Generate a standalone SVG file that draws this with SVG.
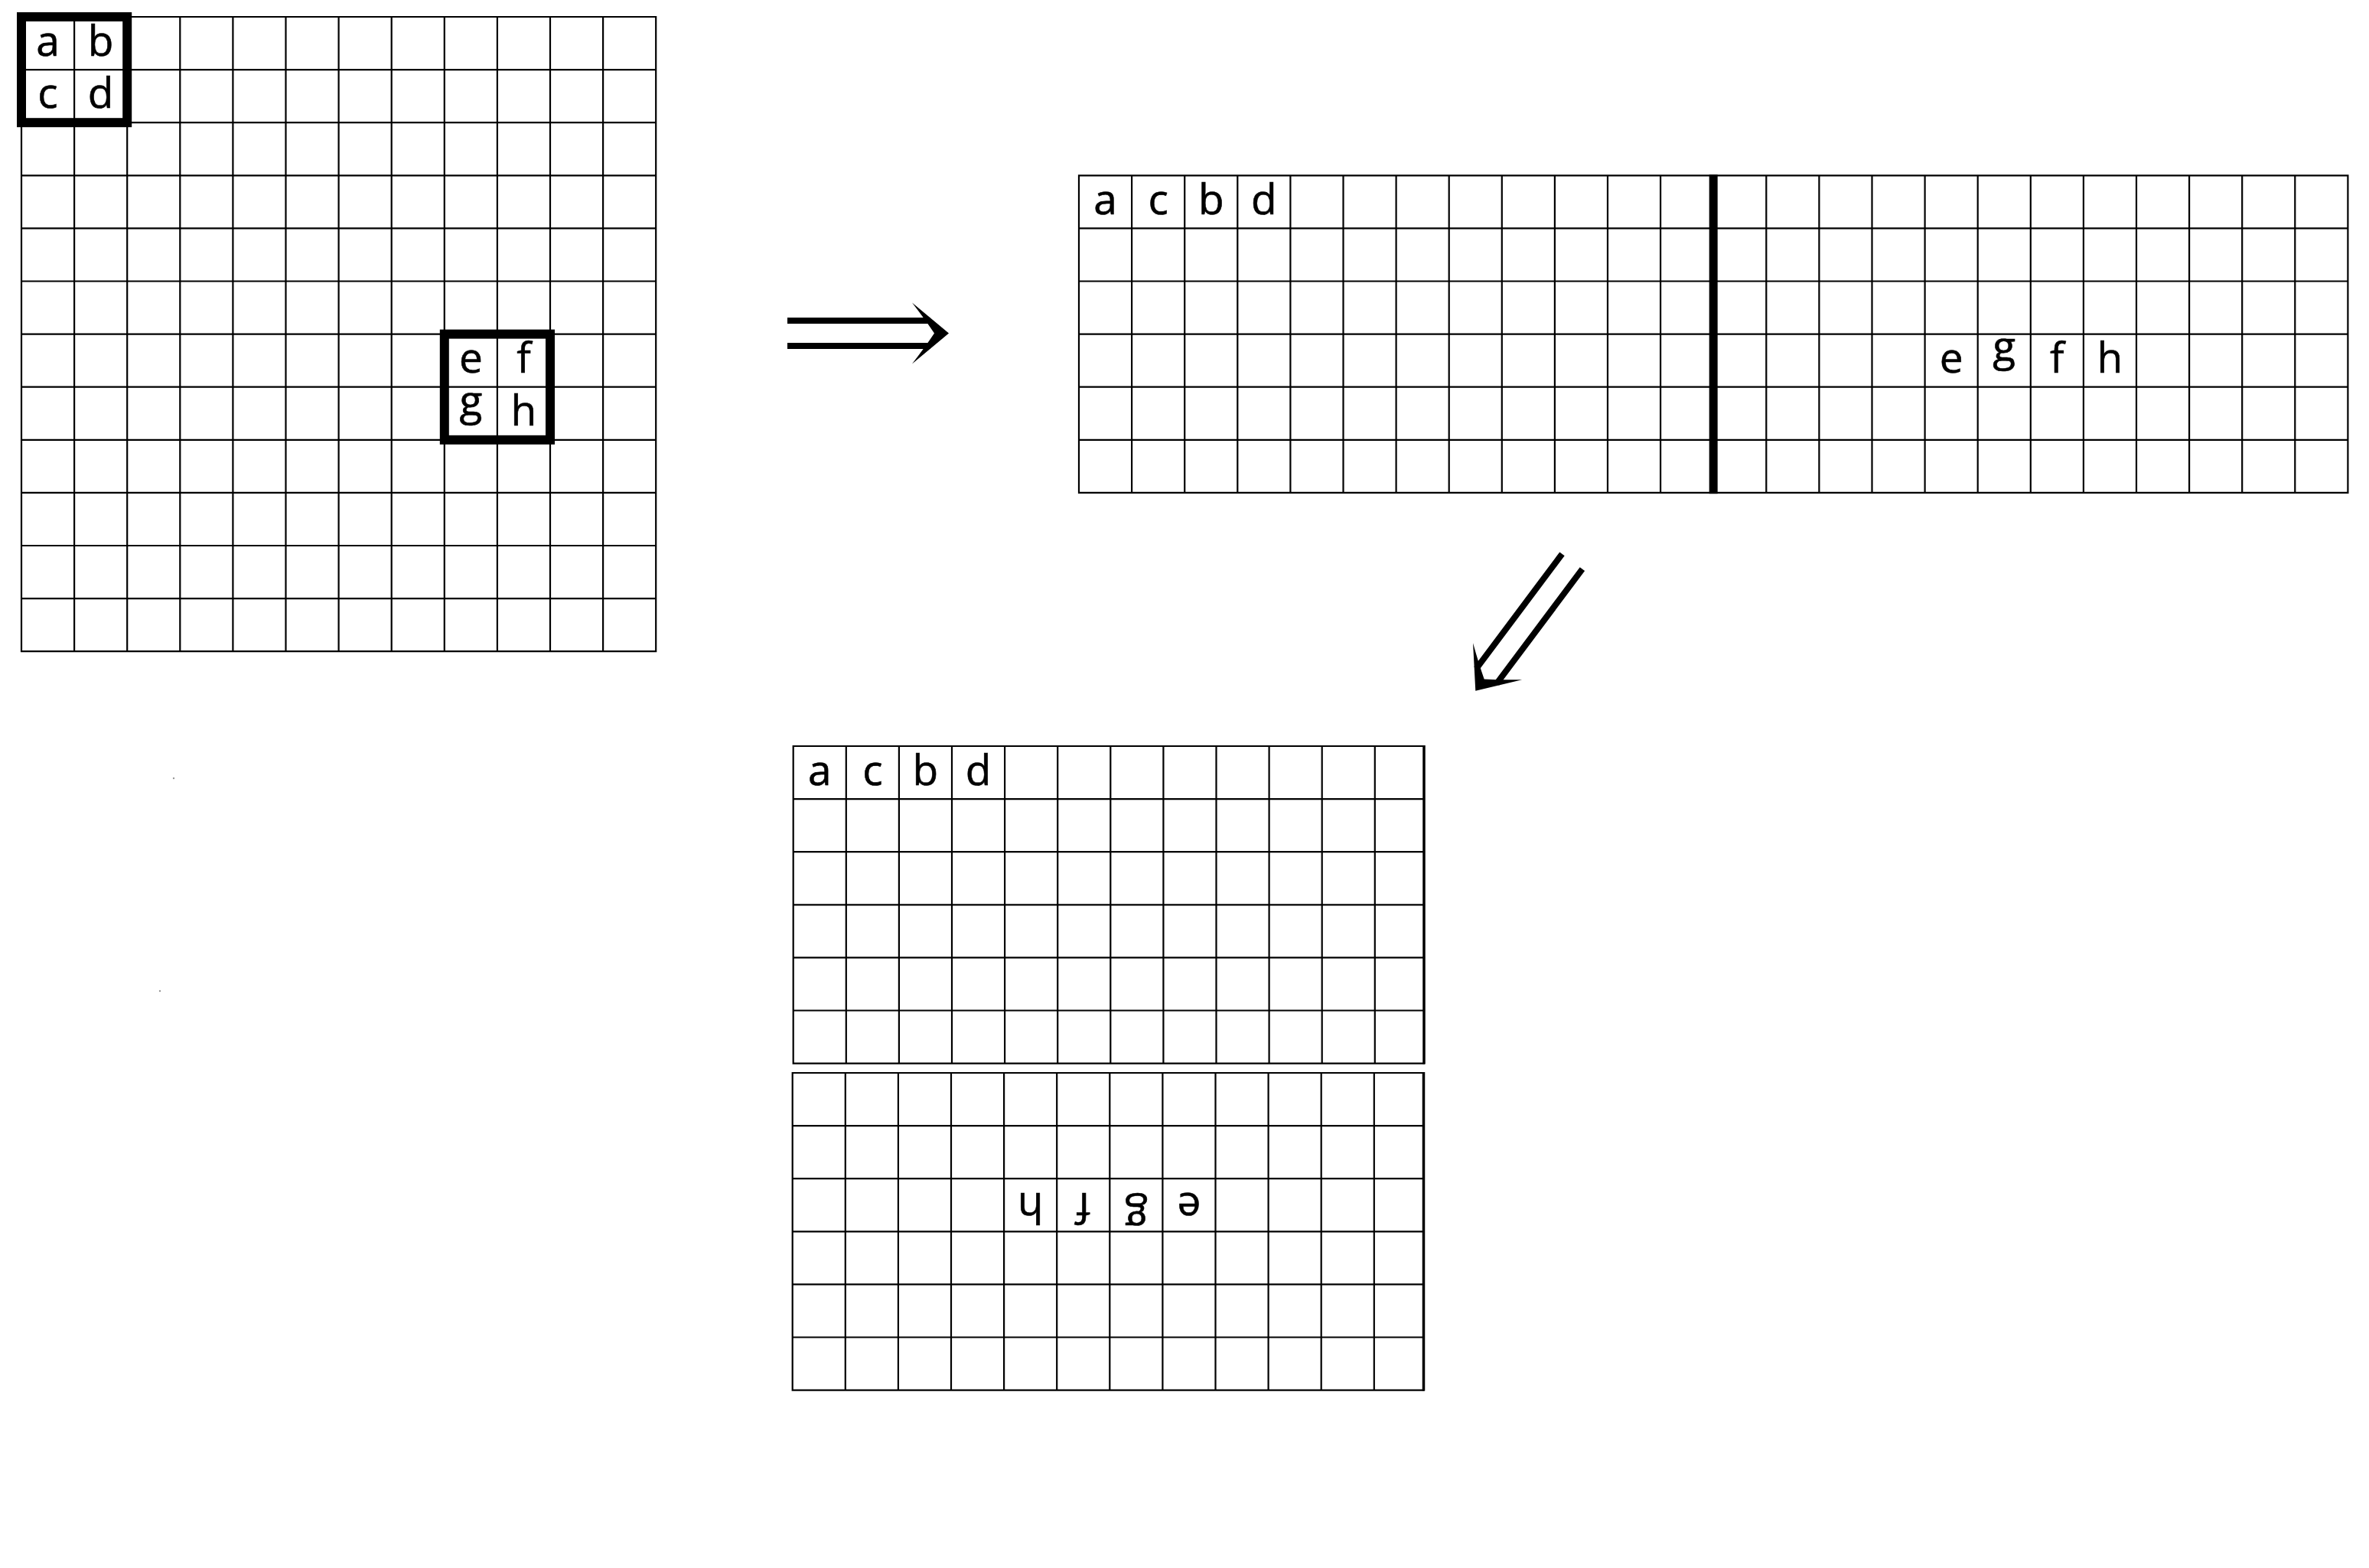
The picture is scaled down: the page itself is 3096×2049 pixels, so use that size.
<svg xmlns="http://www.w3.org/2000/svg" width="3096" height="2049" viewBox="0 0 3096 2049">
<style>
.grid{fill:none;stroke:#000;stroke-width:2.2;stroke-linecap:square}
.thick{fill:none;stroke:#000;stroke-width:12}
.lt{font-family:"Open Sans","Noto Sans","DejaVu Sans",sans-serif;font-size:55px;text-anchor:middle;fill:#000;stroke:#000;stroke-width:0.6}
.bar{stroke:#000;stroke-width:8;fill:none}
</style>
<defs>
<g id="implies">
<path class="bar" d="M-211 -16.5H-24 M-211 16.5H-24"/>
<path d="M-48 -40L0 0L-48 40Q-31 18 -19 0Q-31 -18 -48 -40Z" fill="#000"/>
</g>
</defs>
<rect width="3096" height="2049" fill="#fff"/>

<g id="grid-original">
<path class="grid" d="M28 22V851.2M97.1 22V851.2M166.2 22V851.2M235.3 22V851.2M304.4 22V851.2M373.5 22V851.2M442.6 22V851.2M511.7 22V851.2M580.8 22V851.2M649.9 22V851.2M719 22V851.2M788.1 22V851.2M857.2 22V851.2M28 22H857.2M28 91.1H857.2M28 160.2H857.2M28 229.3H857.2M28 298.4H857.2M28 367.5H857.2M28 436.6H857.2M28 505.7H857.2M28 574.8H857.2M28 643.9H857.2M28 713H857.2M28 782.1H857.2M28 851.2H857.2"/>
<rect class="thick" x="28" y="22" width="138.2" height="138.2"/>
<rect class="thick" x="580.8" y="436.6" width="138.2" height="138.2"/>
<text class="lt" x="62.55" y="72.5">a</text>
<text class="lt" x="131.65" y="72.5">b</text>
<text class="lt" x="62.55" y="141.2">c</text>
<text class="lt" x="131.65" y="141.2">d</text>
<text class="lt" x="615.35" y="486.5">e</text>
<text class="lt" x="684.45" y="486.5">f</text>
<text class="lt" x="615.35" y="542.8">g</text>
<text class="lt" x="684.45" y="556">h</text>
</g>

<g id="grid-wide">
<path class="grid" d="M1410 229.3V643.9M1479.1 229.3V643.9M1548.2 229.3V643.9M1617.3 229.3V643.9M1686.4 229.3V643.9M1755.5 229.3V643.9M1824.6 229.3V643.9M1893.7 229.3V643.9M1962.8 229.3V643.9M2031.9 229.3V643.9M2101 229.3V643.9M2170.1 229.3V643.9M2308.3 229.3V643.9M2377.4 229.3V643.9M2446.5 229.3V643.9M2515.6 229.3V643.9M2584.7 229.3V643.9M2653.8 229.3V643.9M2722.9 229.3V643.9M2792 229.3V643.9M2861.1 229.3V643.9M2930.2 229.3V643.9M2999.3 229.3V643.9M3068.4 229.3V643.9M1410 229.3H3068.4M1410 298.4H3068.4M1410 367.5H3068.4M1410 436.6H3068.4M1410 505.7H3068.4M1410 574.8H3068.4M1410 643.9H3068.4"/>
<path d="M2239.2 228V645.2" stroke="#000" stroke-width="11" fill="none"/>
<text class="lt" x="1444.55" y="280">a</text>
<text class="lt" x="1513.65" y="280">c</text>
<text class="lt" x="1582.75" y="280">b</text>
<text class="lt" x="1651.85" y="280">d</text>
<text class="lt" x="2550.15" y="487.2">e</text>
<text class="lt" x="2619.25" y="472">g</text>
<text class="lt" x="2688.35" y="487.2">f</text>
<text class="lt" x="2757.45" y="487.2">h</text>
</g>

<g id="grid-top-half">
<path class="grid" d="M1036.7 975V1389.6M1105.8 975V1389.6M1174.9 975V1389.6M1244 975V1389.6M1313.1 975V1389.6M1382.2 975V1389.6M1451.3 975V1389.6M1520.4 975V1389.6M1589.5 975V1389.6M1658.6 975V1389.6M1727.7 975V1389.6M1796.8 975V1389.6M1036.7 975H1861M1036.7 1044.1H1861M1036.7 1113.2H1861M1036.7 1182.3H1861M1036.7 1251.4H1861M1036.7 1320.5H1861M1036.7 1389.6H1861"/>
<path d="M1861 974V1390.6" stroke="#000" stroke-width="3.5" fill="none"/>
<text class="lt" x="1071.25" y="1025.6">a</text>
<text class="lt" x="1140.35" y="1025.6">c</text>
<text class="lt" x="1209.45" y="1025.6">b</text>
<text class="lt" x="1278.55" y="1025.6">d</text>
</g>

<g id="grid-bottom-half">
<path class="grid" d="M1035.7 1402V1816.6M1104.8 1402V1816.6M1173.9 1402V1816.6M1243 1402V1816.6M1312.1 1402V1816.6M1381.2 1402V1816.6M1450.3 1402V1816.6M1519.4 1402V1816.6M1588.5 1402V1816.6M1657.6 1402V1816.6M1726.7 1402V1816.6M1795.8 1402V1816.6M1035.7 1402H1860.5M1035.7 1471.1H1860.5M1035.7 1540.2H1860.5M1035.7 1609.3H1860.5M1035.7 1678.4H1860.5M1035.7 1747.5H1860.5M1035.7 1816.6H1860.5"/>
<path d="M1860.5 1401V1817.6" stroke="#000" stroke-width="3.5" fill="none"/>
<text class="lt" x="1346.65" y="1590.9" transform="rotate(180 1346.65 1574.75)">h</text>
<text class="lt" x="1415.75" y="1590.9" transform="rotate(180 1415.75 1574.75)">f</text>
<text class="lt" x="1484.85" y="1578" transform="rotate(180 1484.85 1574.75)">g</text>
<text class="lt" x="1553.95" y="1590.9" transform="rotate(180 1553.95 1574.75)">e</text>
</g>

<g id="connectors">
<use href="#implies" transform="translate(1240 435.5)"/>
<use href="#implies" transform="translate(1928.3 902.7) rotate(126.8)"/>
</g>

<g id="specks" fill="#999">
<circle cx="227" cy="1017" r="1.2"/>
<circle cx="209" cy="1295" r="1.2"/>
</g>
</svg>
